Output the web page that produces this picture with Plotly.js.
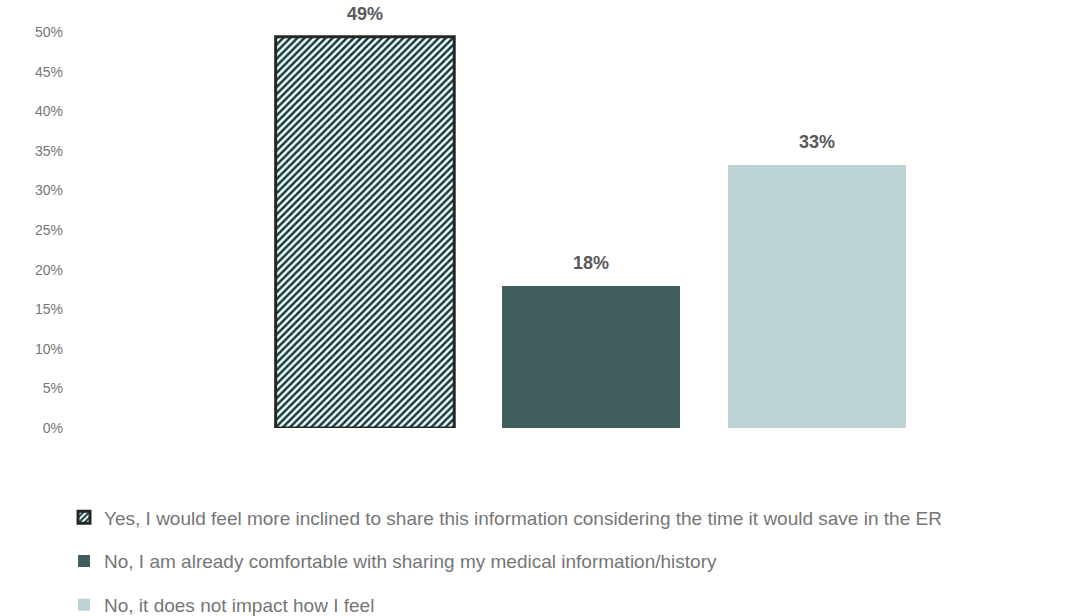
<!DOCTYPE html>
<html>
<head>
<meta charset="utf-8">
<script src="https://cdn.plot.ly/plotly-3.0.1.min.js"></script>
<style>html,body{margin:0;padding:0;background:#fff;}#chart{width:1071px;height:616px;}</style>
</head>
<body>
<div id="chart"></div>
<script>
const seriesNames = [
  "Yes, I would feel more inclined to share this information considering the time it would save in the ER",
  "No, I am already comfortable with sharing my medical information/history",
  "No, it does not impact how I feel"
];
const seriesValues = [49.4, 17.9, 33.2];
const seriesLabels = ["49%", "18%", "33%"];
const seriesPositions = [0, 1, 2];
const yTickVals = [0, 5, 10, 15, 20, 25, 30, 35, 40, 45, 50];
const yTickText = ["0%", "5%", "10%", "15%", "20%", "25%", "30%", "35%", "40%", "45%", "50%"];

const styles = [
  {marker: {color: "#ffffff", line: {color: "#262626", width: 3},
    pattern: {shape: "/", fgcolor: "#0d3d3d", bgcolor: "#ffffff", size: 5, solidity: 0.5}}},
  {marker: {color: "#415e5e", line: {width: 0}}},
  {marker: {color: "#bcd2d4", line: {width: 0}}}
];

const traces = seriesNames.map((name, i) => ({
  type: "bar",
  name: name,
  legendgroup: "g" + i,
  x: [seriesPositions[i]],
  y: [seriesValues[i]],
  width: 0.79,
  marker: styles[i].marker,
  hoverinfo: "skip"
}));

const annotations = seriesLabels.map((t, i) => ({
  x: seriesPositions[i], y: seriesValues[i], xref: "x", yref: "y",
  text: "<b>" + t + "</b>", showarrow: false, yanchor: "middle", yshift: 23,
  font: {family: "Liberation Sans, Arial, sans-serif", size: 18, color: "#595959"}
}));

const layout = {
  width: 1071, height: 616,
  paper_bgcolor: "#ffffff", plot_bgcolor: "#ffffff",
  margin: {l: 70, r: 21, t: 32, b: 188, autoexpand: false},
  barmode: "overlay",
  showlegend: true,
  annotations: annotations,
  font: {family: "Liberation Sans, Arial, sans-serif", color: "#767676"},
  xaxis: {range: [-1.305, 3.031], showticklabels: false, showgrid: false, zeroline: false, showline: false, ticks: ""},
  yaxis: {range: [0, 50], tickvals: yTickVals, ticktext: yTickText, showgrid: false, zeroline: false, showline: false,
    tickfont: {size: 14, color: "#767676"}, ticks: "", ticklen: 0, ticklabelstandoff: 6},
  legend: {orientation: "v", x: -0.0061, xanchor: "left", y: -0.178, yanchor: "top",
    font: {size: 19, color: "#767676"}, tracegroupgap: 16, traceorder: "grouped", itemwidth: 30},
  bargap: 0
};

Plotly.newPlot("chart", traces, layout, {staticPlot: true, displayModeBar: false});
</script>
</body>
</html>
